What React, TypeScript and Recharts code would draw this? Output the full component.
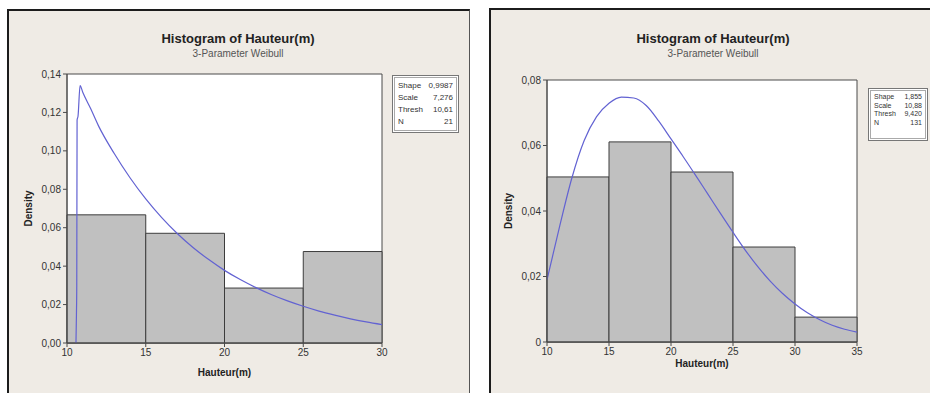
import { CartesianGrid, ComposedChart, Line, ReferenceArea, XAxis, YAxis } from 'recharts';

// left histogram (N = 21)
const leftEdges = [10, 15, 20, 25, 30];
const leftDensity = [0.0667, 0.0571, 0.0286, 0.0476];
const leftTicksX = [10, 15, 20, 25, 30];
const leftTicksY = [0, 0.02, 0.04, 0.06, 0.08, 0.1, 0.12, 0.14];
const leftCurveX = [10.57, 10.6, 10.62, 10.64, 10.7, 10.83, 11, 11.5, 12, 13, 14, 15, 16, 17, 18, 19, 20, 21, 22, 23, 24, 25, 26, 27, 28, 29, 30];
const leftCurveY = [0, 0.015, 0.03, 0.116, 0.118, 0.134, 0.1305, 0.122, 0.113, 0.0986, 0.086, 0.075, 0.0654, 0.057, 0.0497, 0.0434, 0.0378, 0.033, 0.0288, 0.0251, 0.0219, 0.0191, 0.0166, 0.0145, 0.0126, 0.011, 0.0096];
const leftStats = [['Shape', '0,9987'], ['Scale', '7,276'], ['Thresh', '10,61'], ['N', '21']];

// right histogram (N = 131)
const rightEdges = [10, 15, 20, 25, 30, 35];
const rightDensity = [0.0504, 0.0611, 0.0519, 0.029, 0.0076];
const rightTicksX = [10, 15, 20, 25, 30, 35];
const rightTicksY = [0, 0.02, 0.04, 0.06, 0.08];
const rightCurveX = [10, 11, 12, 13, 14, 15, 16, 17, 18, 19, 20, 21, 22, 23, 24, 25, 26, 27, 28, 29, 30, 31, 32, 33, 34, 35];
const rightCurveY = [0.019, 0.035, 0.05, 0.0615, 0.0688, 0.0729, 0.0748, 0.0745, 0.0722, 0.0675, 0.062, 0.0565, 0.0508, 0.045, 0.0392, 0.0335, 0.028, 0.023, 0.0186, 0.0148, 0.0116, 0.0089, 0.0068, 0.0051, 0.0039, 0.003];
const rightStats = [['Shape', '1,855'], ['Scale', '10,88'], ['Thresh', '9,420'], ['N', '131']];

const FONT = '"Liberation Sans Narrow", "Liberation Sans", Arial, sans-serif';
const PANEL_BG = '#efebe5';
const CURVE = '#6262d2';

const comma = (v: number) => v.toFixed(2).replace('.', ',');

function frameH({ offset }: any) {
  return [offset.top, offset.top + offset.height];
}
function frameV({ offset }: any) {
  return [offset.left, offset.left + offset.width];
}

type HistProps = {
  edges: number[];
  density: number[];
  curveX: number[];
  curveY: number[];
  ticksX: number[];
  ticksY: number[];
  yMax: number;
  fmtY: (v: number) => string;
  width: number;
  height: number;
  margin: { top: number; right: number; bottom: number; left: number };
  xLabelOffset: number;
};

function Hist(p: HistProps) {
  const data = p.curveX.map((x, i) => ({ x, d: p.curveY[i] }));
  const tick = { fontSize: 10, fill: '#333', fontFamily: FONT };
  return (
    <ComposedChart width={p.width} height={p.height} data={data} margin={p.margin}>
      <CartesianGrid
        fill="#fff"
        fillOpacity={1}
        stroke="#4a4a4a"
        strokeDasharray=""
        horizontalCoordinatesGenerator={frameH}
        verticalCoordinatesGenerator={frameV}
      />
      <XAxis
        type="number"
        dataKey="x"
        domain={[p.edges[0], p.edges[p.edges.length - 1]]}
        ticks={p.ticksX}
        tick={tick}
        tickSize={4}
        axisLine={{ stroke: '#4a4a4a' }}
        tickLine={{ stroke: '#4a4a4a' }}
        height={30}
        allowDataOverflow
        label={{ value: 'Hauteur(m)', position: 'insideBottom', offset: p.xLabelOffset, style: { fontSize: 10, fontWeight: 700, fill: '#222', fontFamily: FONT } }}
      />
      <YAxis
        type="number"
        domain={[0, p.yMax]}
        ticks={p.ticksY}
        tickFormatter={p.fmtY}
        tick={tick}
        tickSize={4}
        axisLine={{ stroke: '#4a4a4a' }}
        tickLine={{ stroke: '#4a4a4a' }}
        width={40}
        allowDataOverflow
        label={{ value: 'Density', angle: -90, position: 'insideLeft', offset: 1, style: { fontSize: 10, fontWeight: 700, fill: '#222', fontFamily: FONT, textAnchor: 'middle' } }}
      />
      {p.density.map((d, i) => (
        <ReferenceArea
          key={i}
          x1={p.edges[i]}
          x2={p.edges[i + 1]}
          y1={0}
          y2={d}
          fill="#c0c0c0"
          fillOpacity={1}
          stroke="#3c3c3c"
          strokeWidth={1}
        />
      ))}
      <Line type="monotone" dataKey="d" stroke={CURVE} strokeWidth={1.2} dot={false} isAnimationActive={false} />
    </ComposedChart>
  );
}

function Stats({ rows, style, fontSize, lineHeight }: { rows: string[][]; style: any; fontSize: number; lineHeight: number }) {
  return (
    <div
      style={{
        position: 'absolute',
        background: '#fff',
        border: '1px solid #777',
        boxShadow: 'inset 0 0 0 1px #fff, inset 0 0 0 2px #aaa',
        boxSizing: 'border-box',
        padding: '4px 5px',
        fontFamily: FONT,
        fontSize,
        lineHeight: `${lineHeight}px`,
        color: '#333',
        ...style,
      }}
    >
      {rows.map(([k, v]) => (
        <div key={k} style={{ display: 'flex', justifyContent: 'space-between' }}>
          <span>{k}</span>
          <span>{v}</span>
        </div>
      ))}
    </div>
  );
}

function Titles({ cx }: { cx: number }) {
  return (
    <>
      <div style={{ position: 'absolute', left: cx - 120, width: 240, top: 31, textAlign: 'center', fontFamily: FONT, fontWeight: 700, fontSize: 13, color: '#222' }}>
        Histogram of Hauteur(m)
      </div>
      <div style={{ position: 'absolute', left: cx - 120, width: 240, top: 48, textAlign: 'center', fontFamily: FONT, fontSize: 10, color: '#555' }}>
        3-Parameter Weibull
      </div>
    </>
  );
}

export default function App() {
  return (
    <div style={{ position: 'absolute', left: 0, top: 0, width: 930, height: 393, background: '#fff', overflow: 'hidden' }}>
      <div style={{ position: 'absolute', left: 7, top: 9, width: 460, height: 400, background: PANEL_BG, borderLeft: '2px solid #1c1c1c', borderTop: '2px solid #1c1c1c', borderRight: '1px solid #555' }} />
      <div style={{ position: 'absolute', left: 489, top: 8, width: 460, height: 400, background: PANEL_BG, borderLeft: '2px solid #1c1c1c', borderTop: '2px solid #1c1c1c' }} />

      <div style={{ position: 'absolute', left: 0, top: 0 }}>
        <Hist
          edges={leftEdges}
          density={leftDensity}
          curveX={leftCurveX}
          curveY={leftCurveY}
          ticksX={leftTicksX}
          ticksY={leftTicksY}
          yMax={0.14}
          fmtY={comma}
          width={469}
          height={393}
          margin={{ top: 74, right: 87, bottom: 20, left: 27 }}
          xLabelOffset={-3}
        />
      </div>
      <Titles cx={238} />
      <Stats rows={leftStats} fontSize={8} lineHeight={12} style={{ left: 392, top: 75, width: 67, height: 58 }} />

      <div style={{ position: 'absolute', left: 489, top: 0 }}>
        <Hist
          edges={rightEdges}
          density={rightDensity}
          curveX={rightCurveX}
          curveY={rightCurveY}
          ticksX={rightTicksX}
          ticksY={rightTicksY}
          yMax={0.08}
          fmtY={(v) => (v === 0 ? '0' : comma(v))}
          width={441}
          height={393}
          margin={{ top: 80, right: 73, bottom: 21, left: 18 }}
          xLabelOffset={5}
        />
      </div>
      <Titles cx={713} />
      <Stats rows={rightStats} fontSize={7} lineHeight={8.5} style={{ left: 868, top: 88, width: 60, height: 53 }} />
    </div>
  );
}
